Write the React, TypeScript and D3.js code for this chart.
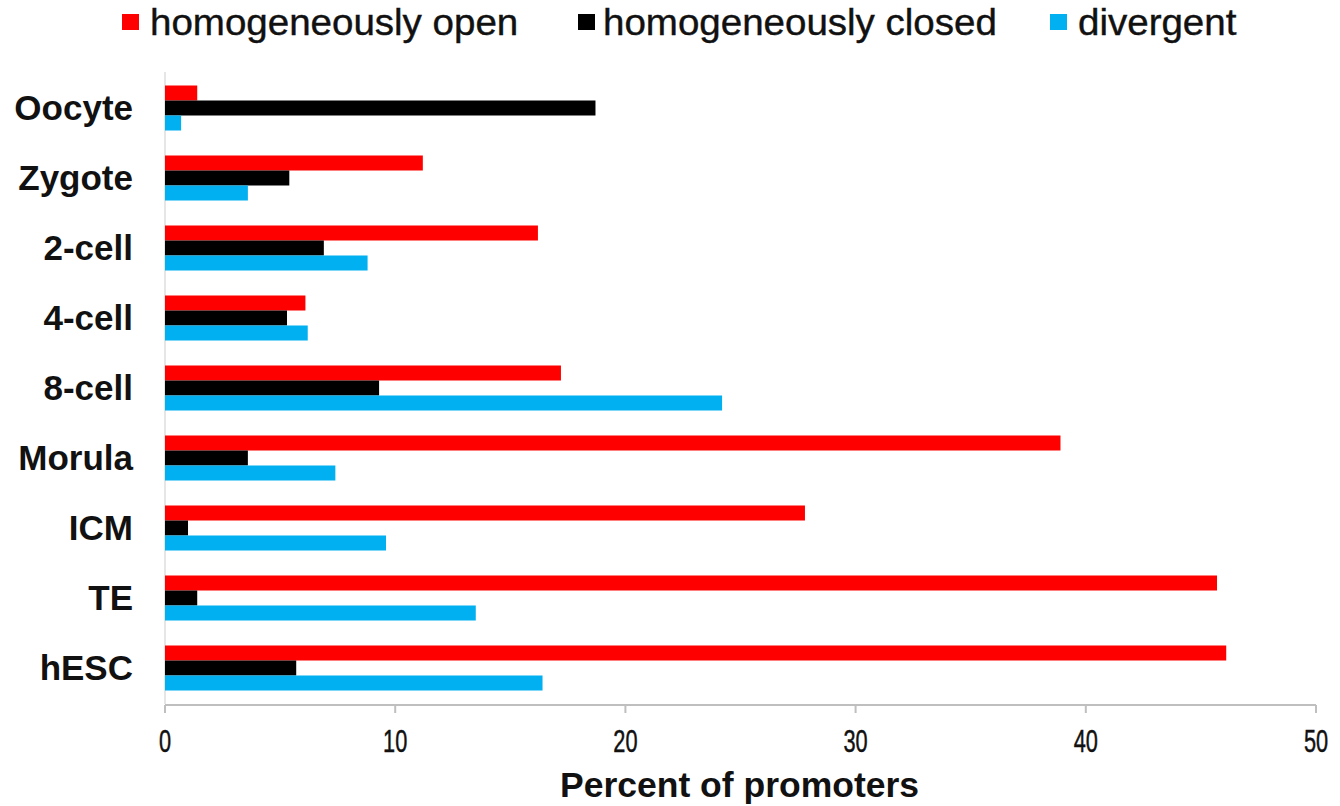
import React from "react";
import * as d3 from "d3";

const categories = ["Oocyte", "Zygote", "2-cell", "4-cell", "8-cell", "Morula", "ICM", "TE", "hESC"];
const seriesNames = ["homogeneously open", "homogeneously closed", "divergent"];
const openValues = [1.4, 11.2, 16.2, 6.1, 17.2, 38.9, 27.8, 45.7, 46.1];
const closedValues = [18.7, 5.4, 6.9, 5.3, 9.3, 3.6, 1.0, 1.4, 5.7];
const divergentValues = [0.7, 3.6, 8.8, 6.2, 24.2, 7.4, 9.6, 13.5, 16.4];
const xTicks = [0, 10, 20, 30, 40, 50];
const colors = ["#FF0000", "#000000", "#00B0F0"];

const W = 1340;
const H = 806;

export default function App() {
  const seriesValues = [openValues, closedValues, divergentValues];
  const x = d3.scaleLinear().domain([0, 50]).range([165, 1316]);
  const y = d3.scaleBand<string>().domain(categories).range([73, 703]).paddingInner(0.357).paddingOuter(0.1785);
  const ys = d3.scaleBand<string>().domain(seriesNames).range([0, y.bandwidth()]).padding(0);

  const legendItems = [
    { sq: 122, tx: 150 },
    { sq: 578, tx: 603 },
    { sq: 1050, tx: 1078 },
  ];

  return (
    <svg width={W} height={H} style={{ position: "absolute", left: 0, top: 0, background: "#fff" }}
      fontFamily="'Liberation Sans', Arial, sans-serif">
      <rect x={0} y={0} width={W} height={H} fill="#fff" />
      {/* legend */}
      {seriesNames.map((s, i) => (
        <g key={s}>
          <rect x={legendItems[i].sq} y={14} width={17} height={16} fill={colors[i]} />
          <text transform={`translate(${legendItems[i].tx},35) scale(1.07,1)`} fontSize={36} fill="#111"
            stroke="#111" strokeWidth={0.4}>{s}</text>
        </g>
      ))}
      {/* left axis line */}
      <line x1={x(0)} x2={x(0)} y1={72} y2={704} stroke="#e6e6e6" strokeWidth={2} />
      {/* bars */}
      {categories.map((c, ci) => (
        <g key={c}>
          {seriesNames.map((s, si) => (
            <rect key={s} x={x(0)} y={(y(c) as number) + (ys(s) as number)}
              width={x(seriesValues[si][ci]) - x(0)} height={ys.bandwidth()} fill={colors[si]} />
          ))}
          <text x={133} y={(y(c) as number) + y.bandwidth() / 2 + 12} textAnchor="end"
            fontSize={35} fontWeight="bold" fill="#111">{c}</text>
        </g>
      ))}
      {/* bottom axis */}
      <line x1={x(0)} x2={x(50)} y1={705} y2={705} stroke="#bfbfbf" strokeWidth={2} />
      {xTicks.map((t) => (
        <g key={t}>
          <line x1={x(t)} x2={x(t)} y1={705} y2={713} stroke="#bfbfbf" strokeWidth={2} />
          <text transform={`translate(${x(t)},752) scale(0.68,1)`} textAnchor="middle" fontSize={32} fill="#111"
            stroke="#111" strokeWidth={0.5}>{t}</text>
        </g>
      ))}
      <text x={(x(0) + x(50)) / 2 - 1} y={797} textAnchor="middle" fontSize={35.5} fontWeight="bold" fill="#111">
        Percent of promoters
      </text>
    </svg>
  );
}
